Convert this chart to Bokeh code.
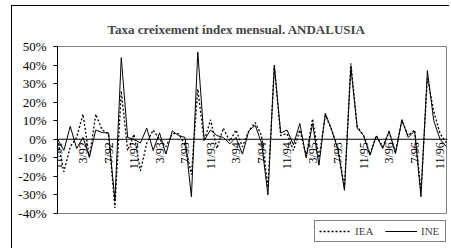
import math
from bokeh.plotting import figure
from bokeh.models import (Range1d, FixedTicker, Span, Legend, LegendItem,
                          ColumnDataSource)
from bokeh.core.properties import value
from bokeh.embed import file_html
from bokeh.resources import INLINE

# Monthly growth rate (%), 11/91 .. 12/96
ine = [0, -6, 7, -5, 1, -9.5, 5, 3.6, 3.4, -33, 44,
       1, 0, -2, 6, -6, 3.5, -8, 4.5, 2, 1, -31, 47,
       -0.5, 5, 2, 1, -2.5, 1, -8, 4.5, 7.5, -2, -30, 40,
       3.4, 5, -3, 8.5, -10, 8.5, -14, 14, 5, -6, -27.5, 39,
       6, 2, -8.6, 1.8, -5, 4.5, -7.7, 10.6, 1, 4.5, -31, 37,
       10, 0, -4]
iea = [0, -17.5, -4, 1, 13.5, -10, 13.5, 5, 3, -37, 26,
       -6, 2.7, -17, -2, 5, 0, -4, 3, 3, -3, -19, 27,
       -1, 10.5, -5, 6, -1, 5, -4, 4.5, 9, 2, -26, 39,
       2, 3, -6, 5, -9, 11, -10, 13, 5, -5, -26, 41,
       7, 2, -8, 2, -4, 4, -7, 10, 2, 5, -28, 33,
       15, 3, -2]
tick_labels = ["11/91", "3/92", "7/92", "11/92", "3/93", "7/93", "11/93", "3/94",
               "7/94", "11/94", "3/95", "7/95", "11/95", "3/96", "7/96", "11/96"]
y_ticks = [-40, -30, -20, -10, 0, 10, 20, 30, 40, 50]
y_min, y_max = -40, 50

x = list(range(len(ine)))
x_max = len(ine) - 1
tick_pos = [4 * i for i in range(len(tick_labels))]

FONT = "Liberation Serif"

# plot area (data box) is 389 x 167 px; the frame extends below it to hold the legend
PX_X = 389 / x_max
PX_Y = 167 / (y_max - y_min)

p = figure(width=451, height=248, output_backend="svg", toolbar_location=None,
           x_range=Range1d(0, x_max + 1 / PX_X),
           y_range=Range1d(y_min - 32 / PX_Y, y_max + 1 / PX_Y),
           x_axis_location=None,
           min_border_left=57, min_border_right=4, min_border_top=45,
           min_border_bottom=3)
p.background_fill_color = "white"
p.border_fill_color = None
p.styles = {
    "background": ("linear-gradient(#000,#000) 11px 5px / 1px 300px no-repeat, "
                   "linear-gradient(#000,#000) 11px 5px / 438px 1px no-repeat, #fff"),
}
p.outline_line_color = None
p.xgrid.visible = False
p.ygrid.visible = False

p.title.text = "Taxa creixement índex mensual. ANDALUSIA"
p.title.text_font = FONT
p.title.text_font_style = "bold"
p.title.text_font_size = "13px"
p.title.align = "left"
p.title.offset = 50
p.title.standoff = 18

yax = p.yaxis[0]
yax.bounds = (y_min, y_max)
yax.ticker = FixedTicker(ticks=y_ticks)
yax.major_label_overrides = {t: f"{t}%" for t in y_ticks}
yax.major_label_text_font = FONT
yax.major_label_text_font_size = "13px"
yax.major_label_text_color = "black"
yax.axis_line_color = "black"
yax.major_tick_out = 4
yax.major_tick_in = 0
yax.major_tick_line_color = "black"
yax.minor_tick_line_color = None
yax.major_label_standoff = 7

# plot-area border
p.quad(left=[0], right=[x_max], bottom=[y_min], top=[y_max],
       fill_color=None, line_color="#808080", line_width=1)

p.add_layout(Span(location=0, dimension="width", line_color="black", line_width=1))

r_iea = p.line(x, iea, line_color="black", line_width=1.3, line_dash="2 2")
r_ine = p.line(x, ine, line_color="black", line_width=1)

src = ColumnDataSource(dict(x=tick_pos, y=[0] * len(tick_pos), t=tick_labels))
p.text(x="x", y="y", text="t", source=src, angle=math.pi / 2,
       text_align="right", text_baseline="middle",
       text_font=value(FONT), text_font_size="12px", text_color="black",
       x_offset=0, y_offset=3)

legend = Legend(items=[LegendItem(label="IEA", renderers=[r_iea]),
                       LegendItem(label="INE", renderers=[r_ine])],
                orientation="horizontal", location=(257, 3), margin=0,
                padding=4, spacing=10, glyph_width=32, glyph_height=12,
                label_height=12, label_standoff=4,
                label_text_font=FONT, label_text_font_size="11px",
                border_line_color="black", border_line_width=1,
                background_fill_color="white")
p.add_layout(legend, "center")

open("out.html", "w").write(file_html(p, INLINE))
